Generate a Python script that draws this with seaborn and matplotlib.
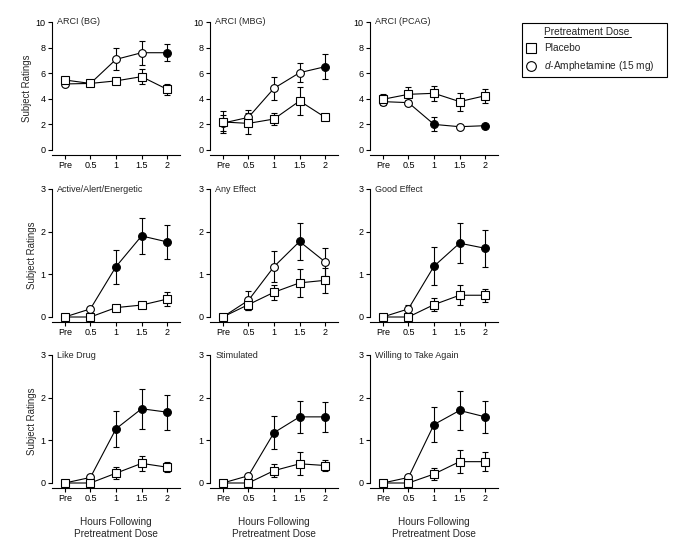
import numpy as np
import matplotlib
matplotlib.use('Agg')
import matplotlib.pyplot as plt
from matplotlib.lines import Line2D
import seaborn as sns

sns.set_style('ticks')
plt.rcParams['font.family'] = ['Liberation Sans', 'DejaVu Sans']
plt.rcParams['mathtext.fontset'] = 'custom'
plt.rcParams['mathtext.it'] = 'Liberation Sans:italic'
plt.rcParams['mathtext.rm'] = 'Liberation Sans'

timepoints = ['Pre', '0.5', '1', '1.5', '2']
titles = ['ARCI (BG)', 'ARCI (MBG)', 'ARCI (PCAG)',
          'Active/Alert/Energetic', 'Any Effect', 'Good Effect',
          'Like Drug', 'Stimulated', 'Willing to Take Again']
y_max = [10, 10, 10, 3, 3, 3, 3, 3, 3]

placebo_mean = [
    [5.47, 5.20, 5.40, 5.73, 4.74],
    [2.19, 2.08, 2.42, 3.83, 2.55],
    [3.96, 4.35, 4.43, 3.78, 4.24],
    [0, 0, 0.22, 0.28, 0.42],
    [0, 0.29, 0.58, 0.80, 0.86],
    [0, 0, 0.29, 0.51, 0.51],
    [0, 0, 0.23, 0.46, 0.37],
    [0, 0, 0.29, 0.45, 0.41],
    [0, 0, 0.21, 0.50, 0.50],
]
placebo_sem = [
    [0.20, 0.15, 0.20, 0.57, 0.45],
    [0.85, 0.80, 0.45, 1.10, 0.10],
    [0.45, 0.60, 0.58, 0.70, 0.55],
    [0, 0, 0.05, 0.05, 0.17],
    [0, 0.12, 0.18, 0.32, 0.30],
    [0, 0, 0.15, 0.23, 0.15],
    [0, 0, 0.14, 0.18, 0.12],
    [0, 0, 0.15, 0.27, 0.14],
    [0, 0, 0.15, 0.27, 0.22],
]
amph_mean = [
    [5.16, 5.20, 7.08, 7.60, 7.60],
    [2.10, 2.55, 4.82, 6.04, 6.51],
    [3.78, 3.70, 2.00, 1.82, 1.90],
    [0, 0.19, 1.18, 1.90, 1.76],
    [0, 0.39, 1.18, 1.77, 1.29],
    [0, 0.19, 1.19, 1.73, 1.61],
    [0, 0.13, 1.27, 1.74, 1.66],
    [0, 0.17, 1.18, 1.55, 1.55],
    [0, 0.13, 1.37, 1.70, 1.55],
]
amph_sem = [
    [0.15, 0.15, 0.85, 0.95, 0.65],
    [0.60, 0.60, 0.90, 0.72, 1.00],
    [0.30, 0.20, 0.55, 0.10, 0.10],
    [0, 0.05, 0.40, 0.43, 0.40],
    [0, 0.23, 0.36, 0.43, 0.33],
    [0, 0.10, 0.44, 0.47, 0.43],
    [0, 0.05, 0.42, 0.47, 0.41],
    [0, 0.05, 0.39, 0.38, 0.36],
    [0, 0.05, 0.41, 0.46, 0.38],
]
# 1 = significant vs placebo (filled symbol)
amph_sig = [
    [0, 0, 0, 0, 1],
    [0, 0, 0, 0, 1],
    [0, 0, 1, 0, 1],
    [0, 0, 1, 1, 1],
    [0, 0, 0, 1, 0],
    [0, 0, 1, 1, 1],
    [0, 0, 1, 1, 1],
    [0, 0, 1, 1, 1],
    [0, 0, 1, 1, 1],
]

W, H = 686, 550
fig = plt.figure(figsize=(W / 100, H / 100), dpi=100)

col_left = [52, 210, 370]
row_top = [22, 189, 355]
ax_w, ax_h, gap = 128, 133, 5
pos = np.arange(len(timepoints))


def draw_series(ax, mean, sem, marker, filled, ms):
    mean = np.asarray(mean)
    sns.lineplot(x=pos, y=mean, color='k', linewidth=0.8, ax=ax, zorder=2)
    ax.errorbar(pos, mean, yerr=sem, fmt='none', ecolor='k', elinewidth=0.8,
                capsize=2, capthick=0.8, zorder=2)
    filled = np.asarray(filled, dtype=bool)
    ax.plot(pos[~filled], mean[~filled], ls='none', marker=marker, ms=ms,
            mfc='white', mec='k', mew=0.8, zorder=3, clip_on=False)
    ax.plot(pos[filled], mean[filled], ls='none', marker=marker, ms=ms,
            mfc='k', mec='k', mew=0.8, zorder=3, clip_on=False)


for i, title in enumerate(titles):
    r, c = divmod(i, 3)
    l, t = col_left[c], row_top[r]
    ax = fig.add_axes([l / W, 1 - (t + ax_h) / H, ax_w / W, ax_h / H])
    ymax = y_max[i]
    draw_series(ax, amph_mean[i], amph_sem[i], 'o', amph_sig[i], 5.6)
    draw_series(ax, placebo_mean[i], placebo_sem[i], 's', [0] * 5, 5.8)

    ax.set_xlim(-0.5, 4.5)
    ax.set_ylim(-ymax * gap / (ax_h - gap), ymax)
    ax.set_xticks(pos)
    ax.set_xticklabels(timepoints)
    ax.set_yticks(np.arange(0, ymax + 0.01, 2 if ymax == 10 else 1))
    for s in ['top', 'right']:
        ax.spines[s].set_visible(False)
    ax.spines['left'].set_bounds(0, ymax)
    for s in ['left', 'bottom']:
        ax.spines[s].set_linewidth(0.8)
        ax.spines[s].set_color('k')
    ax.tick_params(axis='both', labelsize=6.5, colors='k', width=0.8,
                   length=3, pad=1.5)
    ax.text(0.04, 1.0, title, transform=ax.transAxes, fontsize=6.5,
            va='center', ha='left')
    ax.set_xlabel('')
    ax.set_ylabel('')
    if c == 0:
        ax.set_ylabel('Subject Ratings', fontsize=6.9, labelpad=3)
    if r == 2:
        ax.set_xlabel('Hours Following\nPretreatment Dose', fontsize=7.2,
                      labelpad=10, linespacing=1.25)

handles = [
    Line2D([], [], ls='none', marker=None),
    Line2D([], [], ls='none', marker='s', ms=7, mfc='white', mec='k', mew=0.8),
    Line2D([], [], ls='none', marker='o', ms=7, mfc='white', mec='k', mew=0.8),
]
labels = ['Pretreatment Dose', 'Placebo', r'$\it{d}$-Amphetamine (15 mg)']
leg = fig.legend(handles, labels, loc='upper left',
                 bbox_to_anchor=(522 / W, 1 - 79 / H, 145 / W, 56 / H),
                 mode='expand', fontsize=7.3, frameon=True, fancybox=False,
                 edgecolor='k', framealpha=1, borderpad=0.4,
                 handlelength=1.0, handletextpad=0.8, labelspacing=0.6,
                 borderaxespad=0)
leg.get_frame().set_linewidth(0.8)

# underline the legend heading
fig.canvas.draw()
bb = leg.get_texts()[0].get_window_extent()
inv = fig.transFigure.inverted()
(x0, y0), (x1, _) = inv.transform([(bb.x0, bb.y0 + 0.5), (bb.x1 + 1, bb.y0)])
fig.add_artist(Line2D([x0, x1], [y0, y0], color='k', lw=0.7,
                      transform=fig.transFigure, zorder=10))

fig.savefig('out.png', dpi=100)
plt.close(fig)
